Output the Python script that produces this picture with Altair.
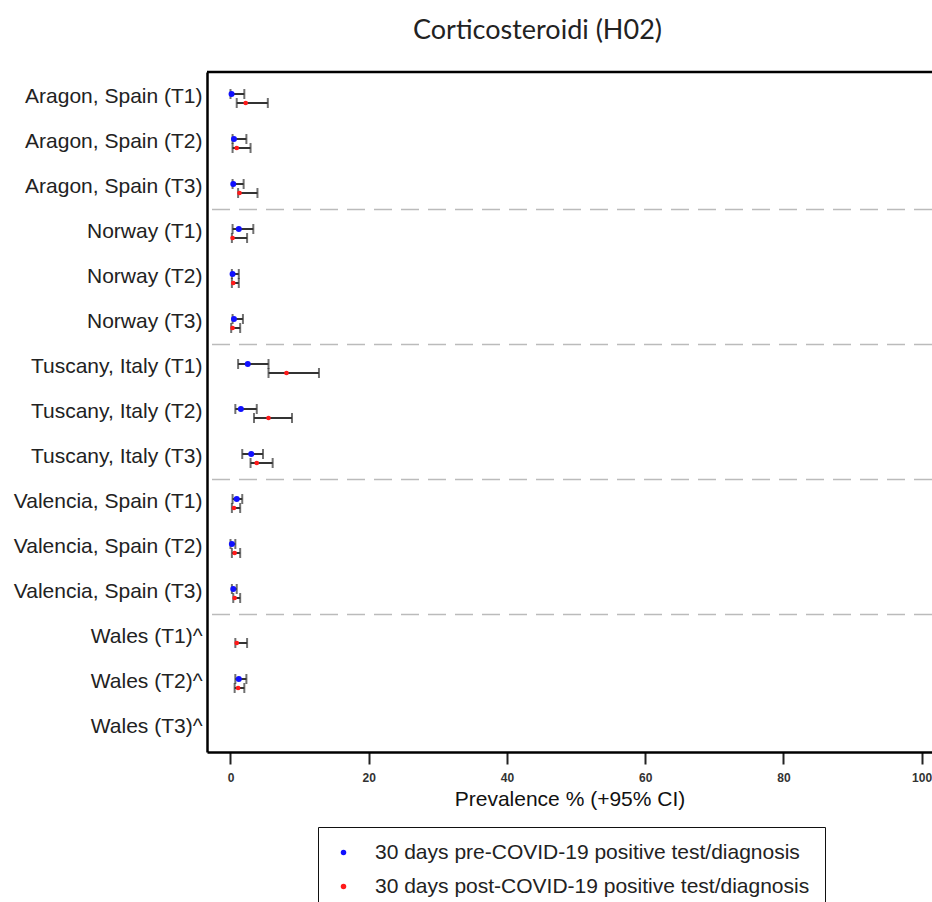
import altair as alt
import pandas as pd

# Rows of the forest plot, top to bottom
rows = [
    "Aragon, Spain (T1)", "Aragon, Spain (T2)", "Aragon, Spain (T3)",
    "Norway (T1)", "Norway (T2)", "Norway (T3)",
    "Tuscany, Italy (T1)", "Tuscany, Italy (T2)", "Tuscany, Italy (T3)",
    "Valencia, Spain (T1)", "Valencia, Spain (T2)", "Valencia, Spain (T3)",
    "Wales (T1)^", "Wales (T2)^", "Wales (T3)^",
]

# Prevalence (%) with 95% CI, 30 days before the positive test/diagnosis
pre_est = [0.15, 0.5, 0.4, 1.2, 0.3, 0.5, 2.5, 1.5, 3.0, 0.9, 0.2, 0.4, None, 1.2, None]
pre_lo = [0.0, 0.3, 0.3, 0.3, 0.2, 0.3, 1.1, 0.7, 1.7, 0.3, 0.0, 0.2, None, 0.7, None]
pre_hi = [2.0, 2.3, 1.9, 3.3, 1.2, 1.8, 5.5, 3.8, 4.7, 1.7, 0.7, 0.9, None, 2.3, None]

# Prevalence (%) with 95% CI, 30 days after the positive test/diagnosis
post_est = [2.2, 0.9, 1.3, 0.3, 0.4, 0.3, 8.1, 5.5, 3.8, 0.5, 0.6, 0.6, 0.9, 1.1, None]
post_lo = [0.9, 0.3, 1.1, 0.2, 0.2, 0.1, 5.5, 3.4, 2.9, 0.2, 0.2, 0.4, 0.7, 0.6, None]
post_hi = [5.4, 2.9, 3.9, 2.4, 1.2, 1.4, 12.8, 8.9, 6.1, 1.4, 1.4, 1.4, 2.4, 2.0, None]

series_names = [
    "30 days pre-COVID-19 positive test/diagnosis",
    "30 days post-COVID-19 positive test/diagnosis",
]
series_colors = ["#1010ff", "#ff1a1a"]

# First row of each region after the first one: dashed separators go above these
group_starts = ["Norway (T1)", "Tuscany, Italy (T1)", "Valencia, Spain (T1)", "Wales (T1)^"]

x_ticks = [0, 20, 40, 60, 80, 100]


def build(est, lo, hi, name):
    recs = []
    for r, e, l, h in zip(rows, est, lo, hi):
        if e is not None:
            recs.append({"row": r, "est": e, "lo": l, "hi": h, "series": name})
    return pd.DataFrame(recs)


pre_df = build(pre_est, pre_lo, pre_hi, series_names[0])
post_df = build(post_est, post_lo, post_hi, series_names[1])
sep_df = pd.DataFrame({"row": group_starts})
frame_df = pd.DataFrame({"k": [0]})

FONT = "Liberation Sans"

y_scale = alt.Scale(type="band", domain=rows, paddingInner=0, paddingOuter=0.056)
x_scale = alt.Scale(domain=[-3.4, 101.5], nice=False, zero=False)

x_axis = alt.Axis(
    values=x_ticks, title="Prevalence % (+95% CI)", grid=False,
    labelFont=FONT, labelFontSize=12, labelFontWeight="bold", labelColor="#333333",
    labelPadding=8, tickSize=12, tickWidth=2, tickColor="#222222",
    domainColor="#000000", domainWidth=2.5,
    titleFont=FONT, titleFontSize=21, titleFontWeight="normal", titleColor="#111111",
    titlePadding=5,
)
y_axis = alt.Axis(
    title=None, ticks=False, grid=False, labelFont=FONT, labelFontSize=21,
    labelColor="#222222", labelPadding=5, labelLimit=300,
    domainColor="#000000", domainWidth=2.5,
)

color = alt.Color(
    "series:N",
    scale=alt.Scale(domain=series_names, range=series_colors),
    legend=alt.Legend(
        title=None, orient="none", legendX=111, legendY=755,
        labelFont=FONT, labelFontSize=21, labelColor="#222222", labelLimit=600,
        labelOffset=21, symbolType="circle", symbolSize=30, symbolStrokeWidth=0,
        rowPadding=12, padding=15, strokeColor="#111111", fillColor="#ffffff",
    ),
)

# Dashed lines between regions, drawn at the top edge of each region's first row
separators = alt.Chart(sep_df).mark_rule(
    color="#bbbbbb", strokeWidth=1.5, strokeDash=[18, 9]
).encode(y=alt.Y("row:N", scale=y_scale, axis=y_axis, bandPosition=0))

# Upper edge of the plot frame
top_line = alt.Chart(frame_df).mark_rule(color="#000000", strokeWidth=2.5).encode(
    y=alt.value(0)
)


def series_layers(df, dy, size):
    base = alt.Chart(df)
    y = alt.Y("row:N", scale=y_scale, axis=y_axis)
    bar = base.mark_rule(color="#333333", strokeWidth=2, yOffset=dy).encode(
        x=alt.X("lo:Q", scale=x_scale, axis=x_axis), x2="hi:Q", y=y
    )
    cap_lo = base.mark_tick(color="#333333", size=10, thickness=2, yOffset=dy).encode(
        x=alt.X("lo:Q", scale=x_scale, axis=x_axis), y=y
    )
    cap_hi = base.mark_tick(color="#333333", size=10, thickness=2, yOffset=dy).encode(
        x=alt.X("hi:Q", scale=x_scale, axis=x_axis), y=y
    )
    pt = base.mark_point(filled=True, opacity=1, size=size, yOffset=dy).encode(
        x=alt.X("est:Q", scale=x_scale, axis=x_axis), y=y, color=color
    )
    return [bar, cap_lo, cap_hi, pt]


layers = [separators, top_line] + series_layers(pre_df, -3, 36) + series_layers(post_df, 6, 22)

chart = alt.layer(*layers).properties(
    width=725,
    height=680,
    autosize=alt.AutoSizeParams(type="none"),
    padding={"left": 207, "top": 72, "right": 0, "bottom": 150},
    title=alt.TitleParams(
        "Corticosteroidi (H02)", font="Lato", fontSize=27, fontWeight="normal",
        color="#222222", anchor="middle", frame="group", dx=-32, offset=26,
    ),
    background="#ffffff",
).configure_view(stroke="transparent", strokeWidth=0)

chart.save("out.html", embed_options={"renderer": "svg", "actions": False})
